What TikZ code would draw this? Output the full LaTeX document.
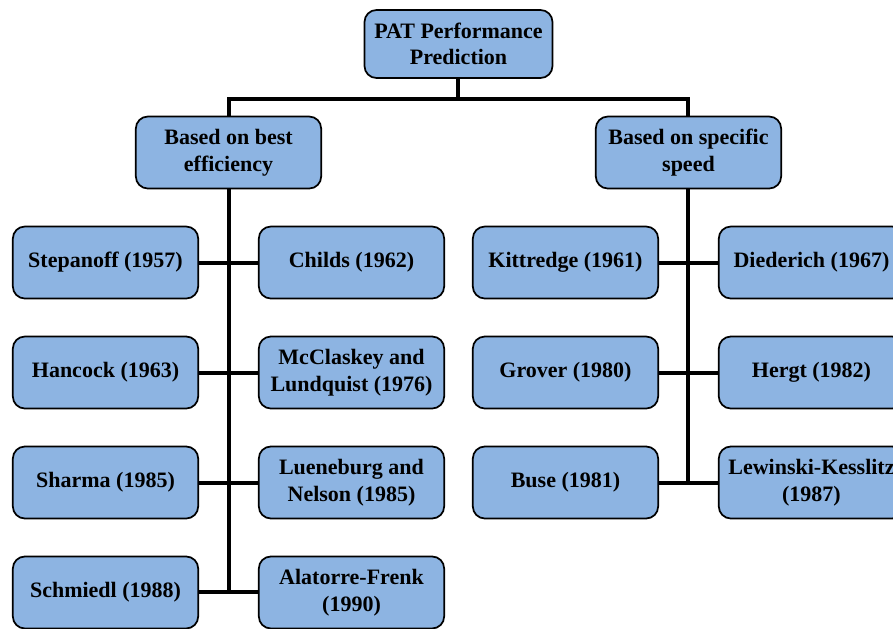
\documentclass[tikz,border=0pt]{standalone}
\usepackage{fontspec}
\setmainfont{Liberation Serif}
\usetikzlibrary{positioning}
\definecolor{boxblue}{HTML}{8DB4E2}
\newcommand\topdy{81.4pt}
\newcommand\topdx{172.5pt}
\newcommand\rowdy{82.5pt}
\newcommand\leafdx{92.25pt}
\newcommand\busdy{15pt}

\tikzset{
  box/.style={draw, line width=1.3pt, fill=boxblue, rounded corners=9pt,
    align=center, minimum width=139pt, minimum height=54pt, inner sep=2pt,
    font=\bfseries\fontsize{16.5}{20}\selectfont},
  link/.style={line width=3pt},
}

\begin{document}
\begin{tikzpicture}[on grid]
  \useasboundingbox (-343.9pt,33pt) rectangle (325.9pt,-438.75pt);
  \node [box, minimum width=141pt, minimum height=51pt] (pat) at (0,0) {PAT Performance\\Prediction};
  \node [box, below left=\topdy and \topdx of pat] (bbe) {Based on best\\efficiency};
  \node [box, below right=\topdy and \topdx of pat] (bss) {Based on specific\\speed};
  % best efficiency branch
  \node [box, below left=\rowdy and \leafdx of bbe] (l1) {Stepanoff (1957)};
  \node [box, below right=\rowdy and \leafdx of bbe] (r1) {Childs (1962)};
  \node [box, below=\rowdy of l1] (l2) {Hancock (1963)};
  \node [box, below=\rowdy of r1] (r2) {McClaskey and\\Lundquist (1976)};
  \node [box, below=\rowdy of l2] (l3) {Sharma (1985)};
  \node [box, below=\rowdy of r2] (r3) {Lueneburg and\\Nelson (1985)};
  \node [box, below=\rowdy of l3] (l4) {Schmiedl (1988)};
  \node [box, below=\rowdy of r3] (r4) {Alatorre-Frenk\\(1990)};
  % specific speed branch
  \node [box, below left=\rowdy and \leafdx of bss] (sl1) {Kittredge (1961)};
  \node [box, below right=\rowdy and \leafdx of bss] (sr1) {Diederich (1967)};
  \node [box, below=\rowdy of sl1] (sl2) {Grover (1980)};
  \node [box, below=\rowdy of sr1] (sr2) {Hergt (1982)};
  \node [box, below=\rowdy of sl2] (sl3) {Buse (1981)};
  \node [box, below=\rowdy of sr2] (sr3) {Lewinski-Kesslitz\\(1987)};

  % connectors
  \coordinate [below=\busdy of pat.south] (bus);
  \draw [link] (pat.south) -- (bus);
  \draw [link] (bbe.north) |- (bus) -| (bss.north);
  \draw [link] (bbe.south) -- (bbe |- l4);
  \draw [link] (bss.south) -- (bss |- sl3);
  \foreach \i in {1,...,4}
    \draw [link] (l\i.east) -- (r\i.west);
  \foreach \i in {1,...,3}
    \draw [link] (sl\i.east) -- (sr\i.west);
\end{tikzpicture}
\end{document}
